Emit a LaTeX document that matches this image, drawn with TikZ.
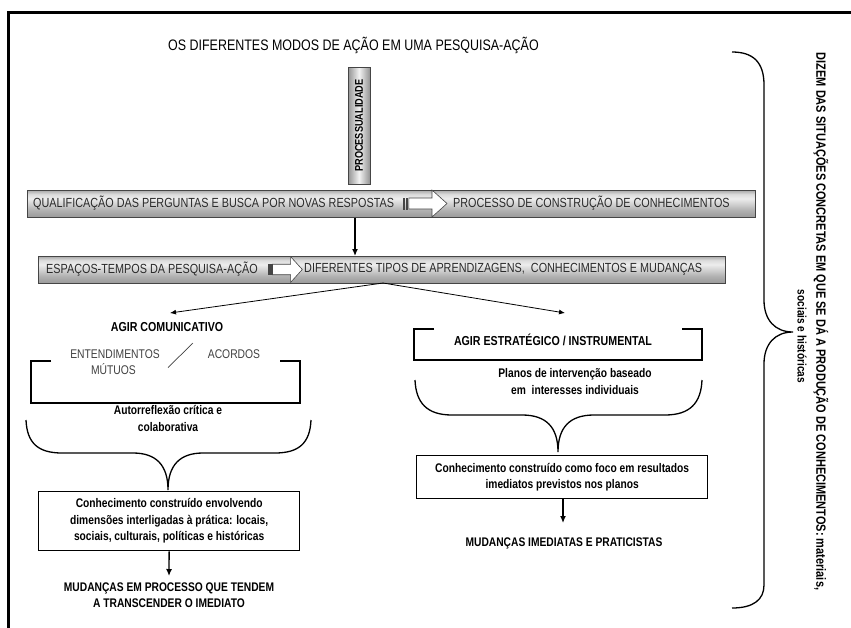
\documentclass[tikz,border=0pt]{standalone}
\usepackage{fontspec}
\setmainfont{Liberation Sans}[FakeStretch=0.82]
\usetikzlibrary{arrows.meta}
\definecolor{bartext}{HTML}{2A2A2A}
\definecolor{softtext}{HTML}{404040}
\definecolor{barline}{HTML}{454545}

% metallic shadings for the bars (the path covers 25bp..75bp)
\pgfdeclareverticalshading{metalv}{100bp}{color(0bp)=(gray!80); color(25bp)=(gray!80); color(38bp)=(gray!62); color(60bp)=(gray!14); color(68bp)=(gray!28); color(75bp)=(gray!66); color(100bp)=(gray!66)}
\pgfdeclarehorizontalshading{metalh}{100bp}{color(0bp)=(gray!85); color(25bp)=(gray!85); color(50bp)=(gray!10); color(75bp)=(gray!85); color(100bp)=(gray!85)}

\tikzset{
  frame/.style={line width=3pt, line cap=rect},
  bar/.style={draw=barline, line width=0.8pt, shading=metalv, inner sep=0pt},
  bartxt/.style={font=\fontsize{13.2}{15}\selectfont, text=bartext, anchor=west, inner sep=0pt},
  softtxt/.style={font=\fontsize{12.6}{15}\selectfont, text=softtext, inner sep=0pt},
  boldtxt/.style={font=\bfseries\fontsize{12.5}{16.5}\selectfont, align=center, inner sep=0pt},
  headtxt/.style={font=\bfseries\fontsize{13}{16}\selectfont, align=center, inner sep=0pt},
  wbox/.style={draw, line width=1.3pt, fill=white, inner sep=0pt},
  conn/.style={line width=1.3pt, -{Latex[length=7pt,width=6pt]}},
  thinconn/.style={line width=0.8pt, -{Latex[length=6pt,width=5pt]}},
  bracket/.style={line width=1.3pt},
  brace/.style={line width=1.3pt},
  pics/blockarrow/.style={code={
    \draw[barline, line width=0.6pt, fill=white] (0,-5.5) rectangle (1.6,5.5);
    \draw[barline, line width=0.6pt, fill=white] (3,-5.5) rectangle (4.4,5.5);
    \draw[barline, line width=0.6pt, fill=white]
      (5.8,-5.5) -- (29,-5.5) -- (29,-13.5) -- (44,0) -- (29,13.5) -- (29,5.5) -- (5.8,5.5) -- cycle;
  }}
}

\begin{document}
\begin{tikzpicture}[x=1pt, y=-1pt]
\useasboundingbox (0,0) rectangle (851,627);

% outer frame (open to the right and bottom)
\draw[frame] (8.5,627) -- (8.5,12) -- (851,12);

% title
\node[font=\fontsize{15.2}{18}\selectfont, anchor=west, inner sep=0pt] (title) at (168,45)
  {OS DIFERENTES MODOS DE AÇÃO EM UMA PESQUISA-AÇÃO};

% vertical "processualidade" bar
\node[draw=barline, line width=0.8pt, minimum width=22pt, minimum height=117pt,
      shading=metalh, inner sep=0pt]
  (proc) at (359,125.5) {};
\node[rotate=90, font=\bfseries\fontsize{11.2}{12}\selectfont, inner sep=0pt] at (proc.center)
  {PROCESSUALIDADE};

% first horizontal bar
\node[bar, minimum width=728pt, minimum height=27pt, anchor=north west] (qual) at (27,190) {};
\node[bartxt] (qualA) at (33,203.5) {QUALIFICAÇÃO DAS PERGUNTAS E BUSCA POR NOVAS RESPOSTAS};
\pic at (403,203.5) {blockarrow};
\node[bartxt] (qualB) at (453,203.5) {PROCESSO DE CONSTRUÇÃO DE CONHECIMENTOS};

% second horizontal bar
\node[bar, minimum width=687pt, minimum height=27pt, anchor=north west] (esp) at (38,256) {};
\node[bartxt] (espA) at (46,269.5) {ESPAÇOS-TEMPOS DA PESQUISA-AÇÃO};
\pic[xscale=0.78, yscale=0.95] at (268,269.5) {blockarrow};
\node[bartxt] (espB) at (304,269.5) {DIFERENTES TIPOS DE APRENDIZAGENS,\ \ CONHECIMENTOS E MUDANÇAS};

\draw[conn] (qual.south -| 355,0) -- (esp.north -| 355,0);

% split into the two ways of acting
\coordinate (split) at (383,283);
\coordinate (tipL) at (170,313);
\coordinate (tipR) at (565,313);
\draw[thinconn] (split) -- (tipL);
\draw[thinconn] (split) -- (tipR);

% ---- left column: communicative action ----
\node[headtxt] (com) at (167,327.5) {AGIR COMUNICATIVO};
\draw[bracket] (51,361) -- (31,361) -- (31,403) -- (300,403) -- (300,361) -- (280,361);
\node[softtxt] (ent) at (115,354) {ENTENDIMENTOS};
\node[softtxt] (mut) at (113.5,369.5) {MÚTUOS};
\node[softtxt] (aco) at (234,354) {ACORDOS};
\draw[softtext, line width=0.7pt] (168,367.5) -- (193,343);
\node[boldtxt] (auto) at (168,418.5) {Autorreflexão crítica e\\colaborativa};
\draw[brace] (26,420) .. controls (27,443) and (38,453) .. (62,453) -- (133,453)
  .. controls (156,453) and (168,465) .. (168,490)
  .. controls (168,465) and (180,453) .. (203,453) -- (275,453)
  .. controls (299,453) and (310,443) .. (311,420);
\node[wbox, minimum width=261pt, minimum height=59pt, anchor=north west] (boxL) at (38,491) {};
\node[boldtxt] at (boxL.center) {Conhecimento construído envolvendo\\dimensões interligadas à prática: locais,\\sociais, culturais, políticas e históricas};
\node[boldtxt] (mudL) at (169,595) {MUDANÇAS EM PROCESSO QUE TENDEM\\A TRANSCENDER O IMEDIATO};
\draw[conn] (boxL.south) -- (mudL.north |- 0,576);

% ---- right column: strategic action ----
\node[headtxt] (est) at (553,340) {AGIR ESTRATÉGICO / INSTRUMENTAL};
\draw[bracket] (434,329) -- (414,329) -- (414,360) -- (702,360) -- (702,329) -- (682,329);
\node[boldtxt] (plan) at (575,381.5) {Planos de intervenção baseado\\em\ \ interesses individuais};
\draw[brace] (415,380) .. controls (416,403) and (427,415) .. (452,415) -- (522,415)
  .. controls (546,415) and (558,427) .. (558,452)
  .. controls (558,427) and (570,415) .. (594,415) -- (665,415)
  .. controls (690,415) and (701,403) .. (702,380);
\node[wbox, minimum width=291pt, minimum height=43pt, anchor=north west] (boxR) at (416,455) {};
\node[boldtxt] at (boxR.center) {Conhecimento construído como foco em resultados\\imediatos previstos nos planos};
\node[boldtxt] (mudR) at (564,543) {MUDANÇAS IMEDIATAS E PRATICISTAS};
\draw[conn] (boxR.south -| 563,0) -- (563,523);

% ---- right-hand brace and its caption ----
\draw[brace] (732,52) .. controls (753,52) and (764,62) .. (764,85) -- (764,300)
  .. controls (764,320) and (775,332) .. (793,332)
  .. controls (775,332) and (764,344) .. (764,364) -- (764,585)
  .. controls (764,600) and (753,608) .. (732,608);
\node[rotate=-90, font=\bfseries\fontsize{13.4}{15}\selectfont, inner sep=0pt] (dizem) at (821,321.5)
  {DIZEM DAS SITUAÇÕES CONCRETAS EM QUE SE DÁ A PRODUÇÃO DE CONHECIMENTOS: materiais,};
\node[rotate=-90, font=\bfseries\fontsize{12.3}{14}\selectfont, inner sep=0pt] (soc) at (802,336.5)
  {sociais e históricas};
\end{tikzpicture}
\end{document}
